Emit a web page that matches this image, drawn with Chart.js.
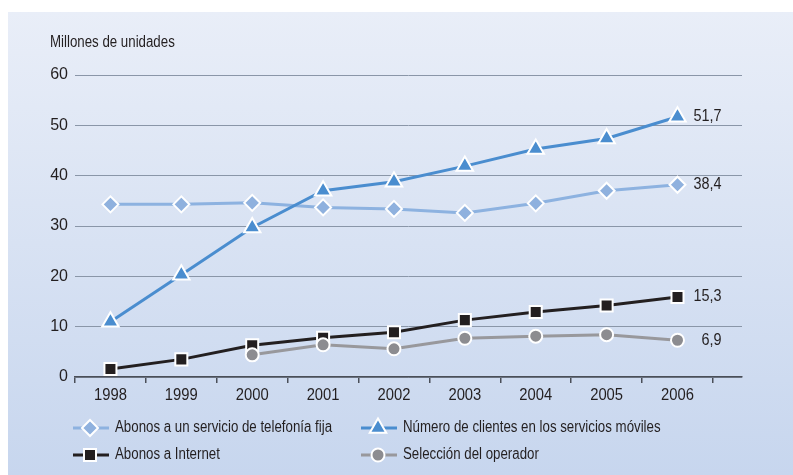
<!DOCTYPE html>
<html>
<head>
<meta charset="utf-8">
<script src="https://cdn.jsdelivr.net/npm/chart.js@4"></script>
<style>
  body { margin: 0; background: #fff; }
  #wrap { position: relative; width: 793px; height: 475px; }
  #panel { position: absolute; left: 8px; top: 12px; right: 0; bottom: 0;
           background: linear-gradient(#e9eef8, #c7d6ee); }
  canvas { position: absolute; left: 0; top: 0; }
</style>
</head>
<body>
<div id="wrap">
  <div id="panel"></div>
  <canvas id="grafico" width="793" height="475"></canvas>
</div>
<script>
const anios = [1998, 1999, 2000, 2001, 2002, 2003, 2004, 2005, 2006];
const telefoniaFija = [34.3, 34.3, 34.6, 33.7, 33.4, 32.6, 34.5, 37.0, 38.2];
const clientesMoviles = [11.0, 20.3, 29.7, 37.0, 38.8, 41.9, 45.3, 47.4, 51.7];
const abonosInternet = [1.6, 3.5, 6.3, 7.8, 8.9, 11.3, 12.9, 14.2, 15.9];
const seleccionOperador = [null, null, 4.4, 6.4, 5.6, 7.7, 8.1, 8.4, 7.3];
const etiquetasFinales = ['38,4', '51,7', '15,3', '6,9'];
const ticksY = [0, 10, 20, 30, 40, 50, 60];

const fuente = "'Liberation Sans', Arial, sans-serif";
const colorTexto = '#231f20';

const puntos = (valores) => anios.map((a, i) => ({ x: a, y: valores[i] }));

// texto "estrecho": la fuente original es condensada
function texto(ctx, t, x, y, align, size, sx) {
    ctx.save();
    ctx.translate(x, y);
    ctx.scale(sx, 1);
    ctx.fillStyle = colorTexto;
    ctx.font = size + 'px ' + fuente;
    ctx.textAlign = align;
    ctx.textBaseline = 'middle';
    ctx.fillText(t, 0, 0);
    ctx.restore();
}

function serie(nombre, valores, color, relleno, forma, radio, orden) {
    return {
        label: nombre,
        data: puntos(valores),
        borderColor: color,
        backgroundColor: relleno,
        borderWidth: 3,
        pointStyle: forma,
        pointRadius: radio,
        pointBackgroundColor: relleno,
        pointBorderColor: '#ffffff',
        pointBorderWidth: 2,
        tension: 0,
        spanGaps: false,
        clip: false,
        order: orden
    };
}

// leyenda en dos columnas, como en el original
const leyenda = {
    id: 'leyenda',
    afterDraw(chart) {
        const ctx = chart.ctx;
        const cols = [73, 361];
        const filas = [428, 455];
        chart.data.datasets.forEach((ds, i) => {
            const x = cols[i % 2];
            const y = filas[Math.floor(i / 2)];
            ctx.save();
            ctx.strokeStyle = ds.borderColor;
            ctx.lineWidth = 3;
            ctx.beginPath();
            ctx.moveTo(x, y);
            ctx.lineTo(x + 36, y);
            ctx.stroke();
            ctx.fillStyle = ds.pointBackgroundColor;
            ctx.strokeStyle = '#ffffff';
            ctx.lineWidth = 2;
            Chart.helpers.drawPoint(ctx, { pointStyle: ds.pointStyle, radius: ds.pointRadius, borderWidth: 2 }, x + 17, y);
            ctx.restore();
            texto(ctx, ds.label, x + 42, y, 'left', 16, 0.83);
        });
    }
};

const rotulos = {
    id: 'rotulos',
    afterDatasetsDraw(chart) {
        const ctx = chart.ctx;
        chart.data.datasets.forEach((ds, i) => {
            const meta = chart.getDatasetMeta(i);
            const p = meta.data[meta.data.length - 1];
            texto(ctx, etiquetasFinales[i], p.x + 44, p.y, 'right', 16, 0.9);
        });
        const sx = chart.scales.x;
        sx.ticks.forEach(t => {
            texto(ctx, String(t.value), sx.getPixelForValue(t.value), sx.top + 18, 'center', 17, 0.87);
        });
        texto(ctx, 'Millones de unidades', 50, 43, 'left', 16, 0.83);
    }
};

const ctx = document.getElementById('grafico').getContext('2d');
new Chart(ctx, {
    type: 'line',
    data: {
        datasets: [
            serie('Abonos a un servicio de telefonía fija', telefoniaFija, '#8db2e0', '#8fb1de', 'rectRot', 8, 3),
            serie('Número de clientes en los servicios móviles', clientesMoviles, '#4a8dcf', '#4a8dcf', 'triangle', 9.5, 2),
            serie('Abonos a Internet', abonosInternet, '#231f20', '#231f20', 'rect', 8.5, 1),
            serie('Selección del operador', seleccionOperador, '#98989c', '#8c8c90', 'circle', 6.5, 0)
        ]
    },
    options: {
        responsive: false,
        animation: false,
        layout: { padding: { left: 0, top: 75, right: 51, bottom: 58 } },
        plugins: { legend: { display: false }, tooltip: { enabled: false } },
        scales: {
            x: {
                type: 'linear',
                min: 1997.5,
                max: 2006.91,
                afterBuildTicks: (s) => { s.ticks = anios.map(v => ({ value: v })); },
                afterFit: (s) => { s.height = 40; },
                grid: { offset: true, drawOnChartArea: false, drawTicks: true, tickLength: 6, tickColor: '#4a4f58', lineWidth: 1.5 },
                border: { display: true, color: '#4a4f58', width: 1.5 },
                ticks: { display: false }
            },
            y: {
                min: 0,
                max: 60,
                afterBuildTicks: (s) => { s.ticks = ticksY.map(v => ({ value: v })); },
                afterFit: (s) => { s.width = 75; },
                grid: { color: '#8a96a8', lineWidth: 1, drawTicks: false },
                border: { display: false },
                ticks: { color: colorTexto, font: { family: fuente, size: 16 }, padding: 7 }
            }
        }
    },
    plugins: [leyenda, rotulos]
});
</script>
</body>
</html>
